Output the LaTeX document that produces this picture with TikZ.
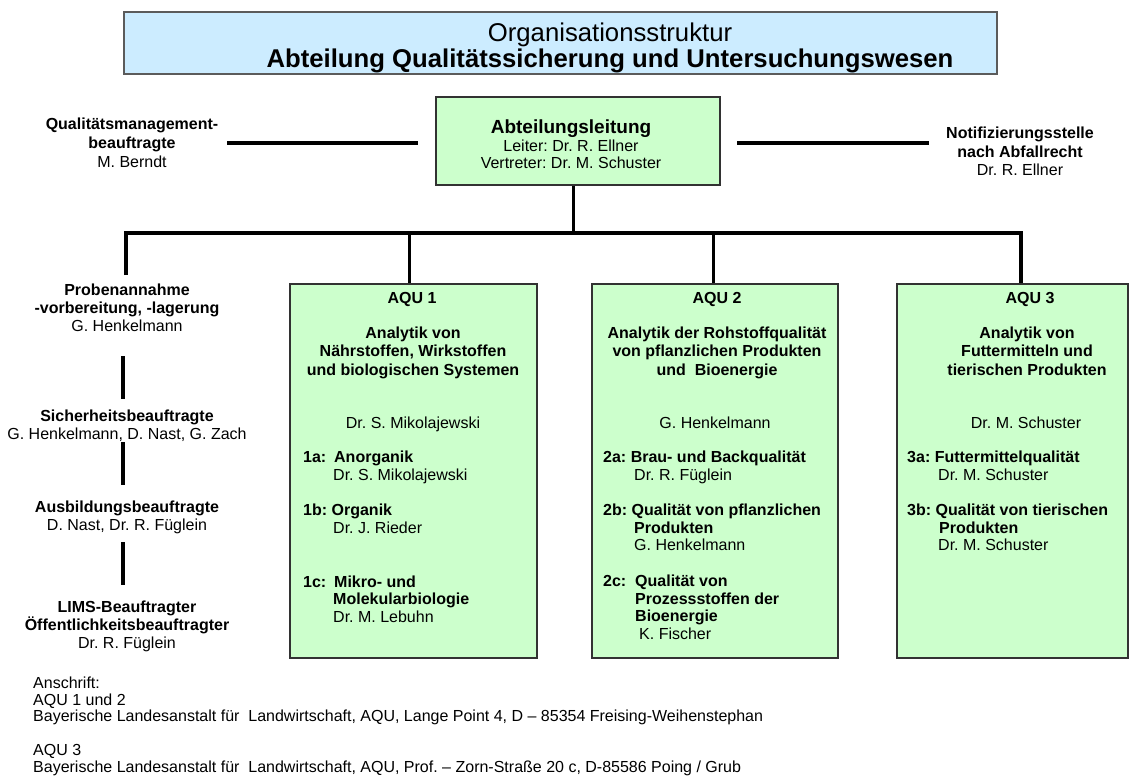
\documentclass[tikz,border=0pt]{standalone}
\usepackage{fontspec}
\setmainfont{Liberation Sans}
\usetikzlibrary{calc}
\frenchspacing
\definecolor{titlebg}{RGB}{204,236,255}
\definecolor{boxbg}{RGB}{204,255,204}
\definecolor{edgecol}{RGB}{50,50,50}
\newcommand\cstack[2]{\vtop{\baselineskip=#1\lineskiplimit=-50pt\lineskip=0pt\halign{\hfil##\hfil\cr#2\crcr}}}
\newcommand\lstack[2]{\vtop{\baselineskip=#1\lineskiplimit=-50pt\lineskip=0pt\halign{##\hfil\cr#2\crcr}}}
\tikzset{
  txt/.style={inner sep=0pt, anchor=base, font=\fontsize{16}{18}\selectfont},
  itemtxt/.style={inner sep=0pt, anchor=base west, font=\fontsize{16}{18}\selectfont},
  titlebox/.style={draw=edgecol!80, line width=1.3pt, fill=titlebg, inner sep=0pt},
  greenbox/.style={draw=edgecol, line width=1.3pt, fill=boxbg, inner sep=0pt},
  hconn/.style={line width=4pt},
  bus/.style={line width=3.5pt, line join=miter},
  vconn/.style={line width=3pt},
}
\begin{document}
\begin{tikzpicture}[x=1pt,y=-1pt]
\useasboundingbox (0,0) rectangle (1130,776);

% title
\node[titlebox, minimum width=873pt, minimum height=62pt] (title) at (560.5,43) {};
\node[txt] (titletext) at (610,42) {\cstack{25pt}{\fontsize{25.7}{26}\selectfont Organisationsstruktur\cr
  \fontsize{25.7}{26}\selectfont\bfseries Abteilung Qualitätssicherung und Untersuchungswesen}};

% Abteilungsleitung
\node[greenbox, minimum width=284pt, minimum height=88pt] (al) at (578,141) {};
\node[txt] (alt) at (571,133.5) {\cstack{17.5pt}{\fontsize{19}{19}\selectfont\bfseries Abteilungsleitung\cr
  Leiter: Dr. R. Ellner\cr Vertreter: Dr. M. Schuster}};

% side functions
\node[txt] (qm) at (132,129.5) {\cstack{19pt}{\bfseries Qualitätsmanagement-\cr\bfseries beauftragte\cr M. Berndt}};
\node[txt] (notif) at (1020,138.5) {\cstack{18.5pt}{\bfseries Notifizierungsstelle\cr\bfseries nach Abfallrecht\cr Dr. R. Ellner}};
\coordinate (qmL) at (227,143);
\coordinate (qmR) at (418,143);
\coordinate (ntL) at (737,143);
\coordinate (ntR) at (929,143);
\draw[hconn] (qmL) -- (qmR);
\draw[hconn] (ntL) -- (ntR);

% AQU boxes
\node[greenbox, minimum width=247pt, minimum height=374pt] (aqu1) at (413.5,471) {};
\node[greenbox, minimum width=246pt, minimum height=374pt] (aqu2) at (715,471) {};
\node[greenbox, minimum width=231pt, minimum height=374pt] (aqu3) at (1012.5,471) {};

% bus
\coordinate (busL) at (126,233);
\coordinate (busR) at (1021,233);
\coordinate (probtop) at (126,275);
\coordinate (b0) at (573,233);
\coordinate (b1) at (409,233);
\coordinate (b2) at (713,233);
\draw[bus] (probtop) -- (busL) -- (busR) -- (busR |- aqu3.north);
\draw[vconn] (b0 |- al.south) -- (b0);
\draw[vconn] (b1) -- (b1 |- aqu1.north);
\draw[vconn] (b2) -- (b2 |- aqu2.north);

% left column
\node[txt] (prob) at (127,295.5) {\cstack{18pt}{\bfseries Probenannahme\cr\bfseries -vorbereitung, -lagerung\cr G. Henkelmann}};
\node[txt] (sich) at (127,421.5) {\cstack{18pt}{\bfseries Sicherheitsbeauftragte\cr G. Henkelmann, D. Nast, G. Zach}};
\node[txt] (ausb) at (127,512.5) {\cstack{18pt}{\bfseries Ausbildungsbeauftragte\cr D. Nast, Dr. R. Füglein}};
\node[txt] (lims) at (127,612.5) {\cstack{18pt}{\bfseries LIMS-Beauftragter\cr\bfseries Öffentlichkeitsbeauftragter\cr Dr. R. Füglein}};
\coordinate (l1a) at (123,356); \coordinate (l1b) at (123,399);
\coordinate (l2a) at (123,442); \coordinate (l2b) at (123,485);
\coordinate (l3a) at (123,542); \coordinate (l3b) at (123,585);
\draw[hconn] (l1a) -- (l1b);
\draw[hconn] (l2a) -- (l2b);
\draw[hconn] (l3a) -- (l3b);

% AQU 1 content
\node[txt] (a1h) at (412,303.5) {\bfseries AQU 1};
\node[txt] (a1t) at (413,338.5) {\cstack{18.4pt}{\bfseries Analytik von\cr\bfseries Nährstoffen, Wirkstoffen\cr\bfseries und biologischen Systemen}};
\node[txt] (a1p) at (413,428.5) {Dr. S. Mikolajewski};
\node[itemtxt] (a1a) at (303,462.5) {\lstack{18pt}{\bfseries\makebox[31pt][l]{1a:}Anorganik\cr\hspace{30pt}Dr. S. Mikolajewski}};
\node[itemtxt] (a1b) at (303,515.5) {\lstack{18pt}{\bfseries 1b: Organik\cr\hspace{30pt}Dr. J. Rieder}};
\node[itemtxt] (a1c) at (303,587.5) {\lstack{17.3pt}{\bfseries\makebox[31pt][l]{1c:}Mikro- und\cr\hspace{30pt}\bfseries Molekularbiologie\cr\hspace{30pt}Dr. M. Lebuhn}};

% AQU 2 content
\node[txt] (a2h) at (717,303.5) {\bfseries AQU 2};
\node[txt] (a2t) at (717,338.5) {\cstack{18.4pt}{\bfseries Analytik der Rohstoffqualität\cr\bfseries von pflanzlichen Produkten\cr\bfseries und\ \ Bioenergie}};
\node[txt] (a2p) at (715,428.5) {G. Henkelmann};
\node[itemtxt] (a2a) at (603,462.5) {\lstack{18pt}{\bfseries 2a: Brau- und Backqualität\cr\hspace{31pt}Dr. R. Füglein}};
\node[itemtxt] (a2b) at (603,515.5) {\lstack{17.5pt}{\bfseries 2b: Qualität von pflanzlichen\cr\hspace{31pt}\bfseries Produkten\cr\hspace{31pt}G. Henkelmann}};
\node[itemtxt] (a2c) at (603,586.5) {\lstack{17.7pt}{\bfseries\makebox[32pt][l]{2c:}Qualität von\cr\hspace{32pt}\bfseries Prozessstoffen der\cr\hspace{32pt}\bfseries Bioenergie\cr\hspace{36pt}K. Fischer}};

% AQU 3 content
\node[txt] (a3h) at (1030,303.5) {\bfseries AQU 3};
\node[txt] (a3t) at (1027,338.5) {\cstack{18.4pt}{\bfseries Analytik von\cr\bfseries Futtermitteln und\cr\bfseries tierischen Produkten}};
\node[txt] (a3p) at (1026,428.5) {Dr. M. Schuster};
\node[itemtxt] (a3a) at (907,462.5) {\lstack{18pt}{\bfseries 3a: Futtermittelqualität\cr\hspace{31pt}Dr. M. Schuster}};
\node[itemtxt] (a3b) at (907,515.5) {\lstack{17.5pt}{\bfseries 3b: Qualität von tierischen\cr\hspace{32pt}\bfseries Produkten\cr\hspace{31pt}Dr. M. Schuster}};

% footer
\node[itemtxt] (foot) at (33,688.5) {\lstack{16.7pt}{Anschrift:\cr AQU 1 und 2\cr
  Bayerische Landesanstalt für\ \ Landwirtschaft, AQU, Lange Point 4, D – 85354 Freising-Weihenstephan\cr
  \cr AQU 3\cr
  Bayerische Landesanstalt für\ \ Landwirtschaft, AQU, Prof. – Zorn-Straße 20 c, D-85586 Poing / Grub}};
\end{tikzpicture}
\end{document}
